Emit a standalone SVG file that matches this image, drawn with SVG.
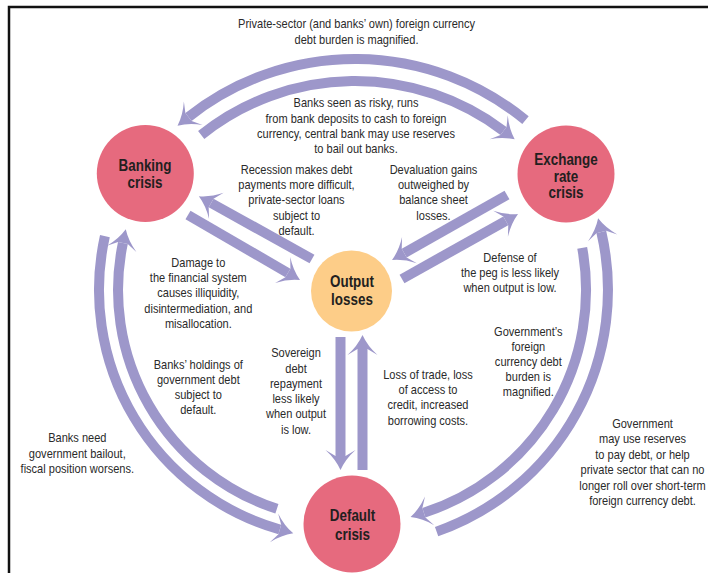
<svg xmlns="http://www.w3.org/2000/svg" width="708" height="573" viewBox="0 0 708 573">
<defs>
<style>
.t{font-family:'Liberation Sans',Arial,sans-serif;font-size:13px;fill:#2a2a2a;text-anchor:middle}
.n{font-family:'Liberation Sans',Arial,sans-serif;font-size:16px;font-weight:bold;fill:#231f20;text-anchor:middle}
.a{fill:none;stroke:#9d97ca;stroke-width:10;marker-end:url(#h)}
.red{fill:#e66a7e}
.org{fill:#fdcd88}
</style>
<marker id="h" markerUnits="userSpaceOnUse" viewBox="-10 -20 30 40" markerWidth="30" markerHeight="40" refX="0" refY="0" orient="auto">
<path d="M14,0 Q3,-5 -6,-15 L0,-5 L0,5 L-6,15 Q3,5 14,0Z" fill="#9d97ca"/>
</marker>
</defs>
<rect width="708" height="573" fill="#fff"/>
<path d="M9,573 V7 H708" fill="none" stroke="#111" stroke-width="2.5"/>

<g id="connectors">
<path class="a" d="M525.5,120.2 A268,268 0 0,0 188.5,117"/>
<path class="a" d="M201.2,135 A246,246 0 0,1 503.5,130.9"/>
<path class="a" d="M188,215 L287.9,273"/>
<path class="a" d="M312,259 L211.1,203"/>
<path class="a" d="M507,195 L404.2,253.1"/>
<path class="a" d="M402,279 L505.8,220.8"/>
<path class="a" d="M340.5,337 V456"/>
<path class="a" d="M362.5,470 V349"/>
<path class="a" d="M104.9,236.1 A249,249 0 0,0 279.8,529.5"/>
<path class="a" d="M276.9,508.8 A230,230 0 0,1 122.9,243"/>
<path class="a" d="M582.2,247.8 A234,234 0 0,1 423.9,512.7"/>
<path class="a" d="M436.6,531.6 A256,256 0 0,0 601.3,232"/>
</g>

<g id="banking">
<circle class="red" cx="145.3" cy="173.5" r="48.5"/>
<text class="n" transform="translate(145,0) scale(0.84,1)" y="171.5">Banking<tspan x="0" dy="16.5">crisis</tspan></text>
</g>
<g id="exchange">
<circle class="red" cx="566" cy="174" r="48.5"/>
<text class="n" transform="translate(566,0) scale(0.84,1)" y="165">Exchange<tspan x="0" dy="16.7">rate</tspan><tspan x="0" dy="16.7">crisis</tspan></text>
</g>
<g id="output">
<circle class="org" cx="351.5" cy="291" r="40.5"/>
<text class="n" transform="translate(352,0) scale(0.84,1)" y="287.5">Output<tspan x="0" dy="17.5">losses</tspan></text>
</g>
<g id="default">
<circle class="red" cx="352" cy="524" r="48.5"/>
<text class="n" transform="translate(352.5,0) scale(0.84,1)" y="521.5">Default<tspan x="0" dy="18.3">crisis</tspan></text>
</g>

<g id="labels">
<text class="t" transform="translate(356.5,0) scale(0.85,1)" y="28.5">Private-sector (and banks’ own) foreign currency<tspan x="0" dy="15.2">debt burden is magnified.</tspan></text>
<text class="t" transform="translate(356,0) scale(0.85,1)" y="107.5">Banks seen as risky, runs<tspan x="0" dy="15.2">from bank deposits to cash to foreign</tspan><tspan x="0" dy="15.2">currency, central bank may use reserves</tspan><tspan x="0" dy="15.2">to bail out banks.</tspan></text>
<text class="t" transform="translate(296.5,0) scale(0.85,1)" y="174">Recession makes debt<tspan x="0" dy="15.2">payments more difficult,</tspan><tspan x="0" dy="15.2">private-sector loans</tspan><tspan x="0" dy="15.2">subject to</tspan><tspan x="0" dy="15.2">default.</tspan></text>
<text class="t" transform="translate(433.5,0) scale(0.85,1)" y="174">Devaluation gains<tspan x="0" dy="15.2">outweighed by</tspan><tspan x="0" dy="15.2">balance sheet</tspan><tspan x="0" dy="15.2">losses.</tspan></text>
<text class="t" transform="translate(198.3,0) scale(0.85,1)" y="267.3">Damage to<tspan x="0" dy="15.1">the financial system</tspan><tspan x="0" dy="15.1">causes illiquidity,</tspan><tspan x="0" dy="15.1">disintermediation, and</tspan><tspan x="0" dy="15.1">misallocation.</tspan></text>
<text class="t" transform="translate(198.3,0) scale(0.85,1)" y="369">Banks’ holdings of<tspan x="0" dy="15.1">government debt</tspan><tspan x="0" dy="15.1">subject to</tspan><tspan x="0" dy="15.1">default.</tspan></text>
<text class="t" transform="translate(77.3,0) scale(0.85,1)" y="442.3">Banks need<tspan x="0" dy="15.5">government bailout,</tspan><tspan x="0" dy="15.5">fiscal position worsens.</tspan></text>
<text class="t" transform="translate(296,0) scale(0.85,1)" y="357.3">Sovereign<tspan x="0" dy="15.3">debt</tspan><tspan x="0" dy="15.3">repayment</tspan><tspan x="0" dy="15.3">less likely</tspan><tspan x="0" dy="15.3">when output</tspan><tspan x="0" dy="15.3">is low.</tspan></text>
<text class="t" transform="translate(428,0) scale(0.85,1)" y="378.7">Loss of trade, loss<tspan x="0" dy="15.3">of access to</tspan><tspan x="0" dy="15.3">credit, increased</tspan><tspan x="0" dy="15.3">borrowing costs.</tspan></text>
<text class="t" transform="translate(510,0) scale(0.85,1)" y="262">Defense of<tspan x="0" dy="14.8">the peg is less likely</tspan><tspan x="0" dy="14.8">when output is low.</tspan></text>
<text class="t" transform="translate(528.3,0) scale(0.85,1)" y="335.7">Government’s<tspan x="0" dy="15.2">foreign</tspan><tspan x="0" dy="15.2">currency debt</tspan><tspan x="0" dy="15.2">burden is</tspan><tspan x="0" dy="15.2">magnified.</tspan></text>
<text class="t" transform="translate(642.5,0) scale(0.85,1)" y="428">Government<tspan x="0" dy="15.5">may use reserves</tspan><tspan x="0" dy="15.5">to pay debt, or help</tspan><tspan x="0" dy="15.5">private sector that can no</tspan><tspan x="0" dy="15.5">longer roll over short-term</tspan><tspan x="0" dy="15.5">foreign currency debt.</tspan></text>
</g>
</svg>
